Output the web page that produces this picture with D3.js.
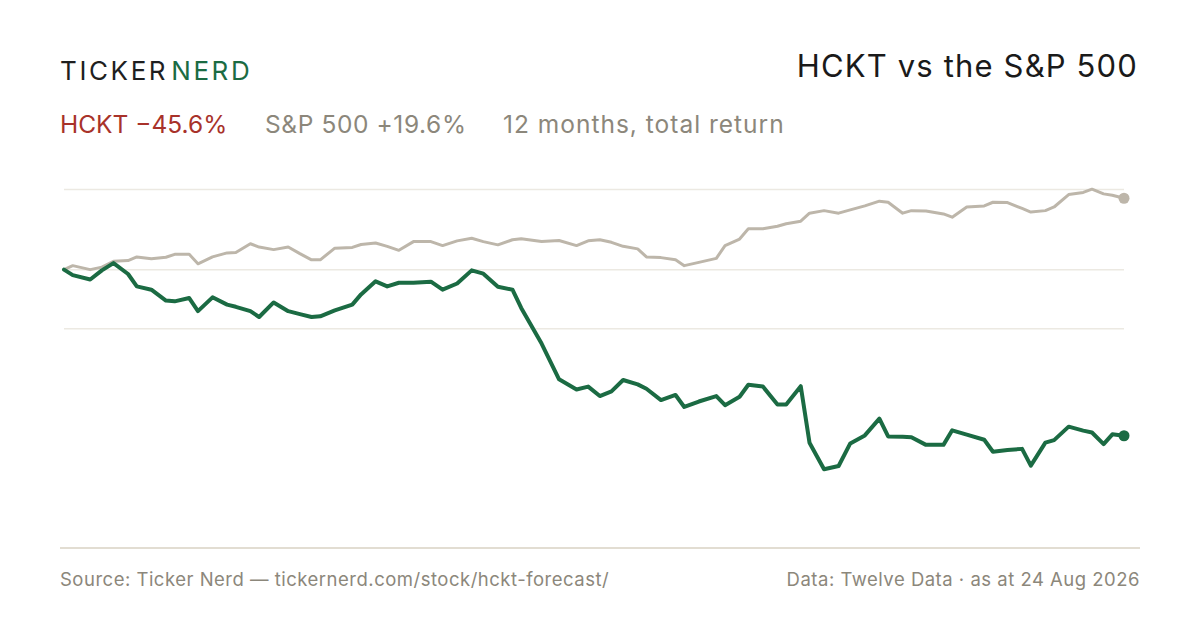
<!DOCTYPE html>
<html>
<head>
<meta charset="utf-8">
<script src="https://cdn.jsdelivr.net/npm/d3@7"></script>
<style>
  html, body { margin: 0; padding: 0; background: #ffffff; }
  svg { display: block; font-family: Inter, "Noto Sans", sans-serif; }
</style>
</head>
<body>
<svg id="chart" width="1200" height="630"></svg>
<script>
// ---- data ----
const dates = [
  "2025-08-25","2025-08-28","2025-09-03","2025-09-07","2025-09-11","2025-09-16","2025-09-19","2025-09-24",
  "2025-09-29","2025-10-02","2025-10-07","2025-10-10","2025-10-15","2025-10-20","2025-10-23","2025-10-28",
  "2025-10-31","2025-11-05","2025-11-10","2025-11-14","2025-11-18","2025-11-21","2025-11-26","2025-12-02",
  "2025-12-05","2025-12-10","2025-12-14","2025-12-18","2025-12-23","2025-12-29","2026-01-02","2026-01-07",
  "2026-01-12","2026-01-16","2026-01-21","2026-01-26","2026-01-29","2026-02-05","2026-02-11","2026-02-17",
  "2026-02-21","2026-02-25","2026-03-01","2026-03-05","2026-03-10","2026-03-13","2026-03-18","2026-03-23",
  "2026-03-26","2026-03-31","2026-04-06","2026-04-09","2026-04-14","2026-04-17","2026-04-22","2026-04-27",
  "2026-04-30","2026-05-05","2026-05-08","2026-05-13","2026-05-18","2026-05-22","2026-05-27","2026-06-01",
  "2026-06-04","2026-06-09","2026-06-12","2026-06-17","2026-06-23","2026-06-26","2026-07-01","2026-07-07",
  "2026-07-10","2026-07-15","2026-07-20","2026-07-23","2026-07-28","2026-07-31","2026-08-05","2026-08-10",
  "2026-08-13","2026-08-17","2026-08-20","2026-08-24"
];
// cumulative return, %
const hcktValues = [
  0.0, -1.5, -2.7, -0.2, 1.8, -1.2, -4.6, -5.5,
  -8.5, -8.7, -7.8, -11.4, -7.6, -9.6, -10.2, -11.4,
  -13.0, -9.0, -11.4, -12.2, -13.0, -12.8, -11.2, -9.6,
  -6.8, -3.2, -4.6, -3.6, -3.6, -3.3, -5.5, -3.8,
  -0.2, -1.1, -4.7, -5.5, -10.5, -20.3, -30.1, -32.9,
  -32.1, -34.7, -33.4, -30.3, -31.5, -32.7, -35.8, -34.4,
  -37.7, -36.2, -34.7, -37.2, -34.9, -31.6, -32.1, -37.0,
  -37.0, -32.0, -47.5, -54.8, -53.9, -47.7, -45.5, -40.9,
  -45.8, -45.9, -46.0, -48.1, -48.1, -44.1, -45.3, -46.7,
  -50.0, -49.5, -49.2, -53.8, -47.5, -46.8, -43.1, -44.2,
  -44.7, -47.9, -45.2, -45.6
];
const spxValues = [
  0.0, 1.1, 0.0, 0.7, 2.3, 2.5, 3.5, 3.0,
  3.4, 4.2, 4.2, 1.6, 3.5, 4.6, 4.7, 7.1,
  6.2, 5.5, 6.2, 4.4, 2.7, 2.7, 5.9, 6.1,
  6.9, 7.3, 6.4, 5.3, 7.7, 7.7, 6.6, 7.9,
  8.6, 7.7, 6.8, 8.2, 8.5, 7.7, 8.0, 6.6,
  7.9, 8.2, 7.5, 6.4, 5.7, 3.5, 3.3, 2.7,
  1.1, 2.0, 3.1, 6.6, 8.4, 11.2, 11.2, 11.9,
  12.6, 13.3, 15.5, 16.2, 15.5, 16.4, 17.5, 18.8,
  18.5, 15.5, 16.2, 16.1, 15.3, 14.4, 17.2, 17.5,
  18.5, 18.4, 16.8, 15.8, 16.2, 17.2, 20.6, 21.2,
  22.1, 20.8, 20.4, 19.6
];
const gridValues = [22, 0, -16.2];

const logoParts = ["TICKER", "NERD"];
const titleText = "HCKT vs the S&P 500";
const legendItems = ["HCKT \u221245.6%", "S&P 500 +19.6%", "12 months, total return"];
const sourceText = "Source: Ticker Nerd \u2014 tickernerd.com/stock/hckt-forecast/";
const dataText = "Data: Twelve Data \u00b7 as at 24 Aug 2026";

// ---- styles ----
const GREEN = "#1b6b43";
const BEIGE = "#bdb6aa";
const RED = "#a8322a";
const GREY = "#8c877b";

const parse = d3.timeParse("%Y-%m-%d");
const dts = dates.map(parse);
const hckt = dts.map((d, i) => ({ date: d, v: hcktValues[i] }));
const spx = dts.map((d, i) => ({ date: d, v: spxValues[i] }));

const svg = d3.select("#chart");

const x = d3.scaleTime().domain(d3.extent(dts)).range([64, 1124]);
const y = d3.scaleLinear().domain([-76, 22]).range([546.5, 189.5]);

// gridlines
svg.append("g").selectAll("line").data(gridValues).join("line")
  .attr("x1", x.range()[0]).attr("x2", x.range()[1])
  .attr("y1", d => y(d)).attr("y2", d => y(d))
  .attr("stroke", "#ece9e2").attr("stroke-width", 1.5);

// bottom rule
svg.append("line")
  .attr("x1", 60).attr("x2", 1140)
  .attr("y1", 548).attr("y2", 548)
  .attr("stroke", "#e2ddd2").attr("stroke-width", 2);

const line = d3.line().x(d => x(d.date)).y(d => y(d.v));

svg.append("path").datum(spx)
  .attr("d", line).attr("fill", "none")
  .attr("stroke", BEIGE).attr("stroke-width", 3)
  .attr("stroke-linejoin", "round").attr("stroke-linecap", "round");

svg.append("path").datum(hckt)
  .attr("d", line).attr("fill", "none")
  .attr("stroke", GREEN).attr("stroke-width", 4)
  .attr("stroke-linejoin", "round").attr("stroke-linecap", "round");

svg.append("circle")
  .attr("cx", x(spx[spx.length - 1].date)).attr("cy", y(spx[spx.length - 1].v))
  .attr("r", 5.5).attr("fill", BEIGE);
svg.append("circle")
  .attr("cx", x(hckt[hckt.length - 1].date)).attr("cy", y(hckt[hckt.length - 1].v))
  .attr("r", 5.5).attr("fill", GREEN);

// logo
const logo = svg.append("text")
  .attr("x", 60).attr("y", 80)
  .attr("font-size", 26).attr("letter-spacing", 2.6);
logo.append("tspan").text(logoParts[0]).attr("fill", "#1f1f1f");
logo.append("tspan").text(logoParts[1]).attr("fill", GREEN).attr("dx", 3);

// title
svg.append("text")
  .attr("x", 1138).attr("y", 77)
  .attr("text-anchor", "end")
  .attr("font-size", 31).attr("letter-spacing", 1.15).attr("fill", "#1a1a1a")
  .text(titleText);

// legend row
const legendX = [60, 265, 503];
const legendSpacing = [0, 0.6, 1.0];
const legendColors = [RED, GREY, GREY];
legendItems.forEach((t, i) => {
  svg.append("text")
    .attr("x", legendX[i]).attr("y", 133)
    .attr("font-size", 24.5).attr("letter-spacing", legendSpacing[i])
    .attr("fill", legendColors[i])
    .text(t);
});

// footer
svg.append("text")
  .attr("x", 60).attr("y", 586)
  .attr("font-size", 18.5).attr("letter-spacing", 0.5).attr("fill", GREY)
  .text(sourceText);
svg.append("text")
  .attr("x", 1140).attr("y", 586)
  .attr("text-anchor", "end")
  .attr("font-size", 18.5).attr("letter-spacing", 0.5).attr("fill", GREY)
  .text(dataText);
</script>
</body>
</html>
